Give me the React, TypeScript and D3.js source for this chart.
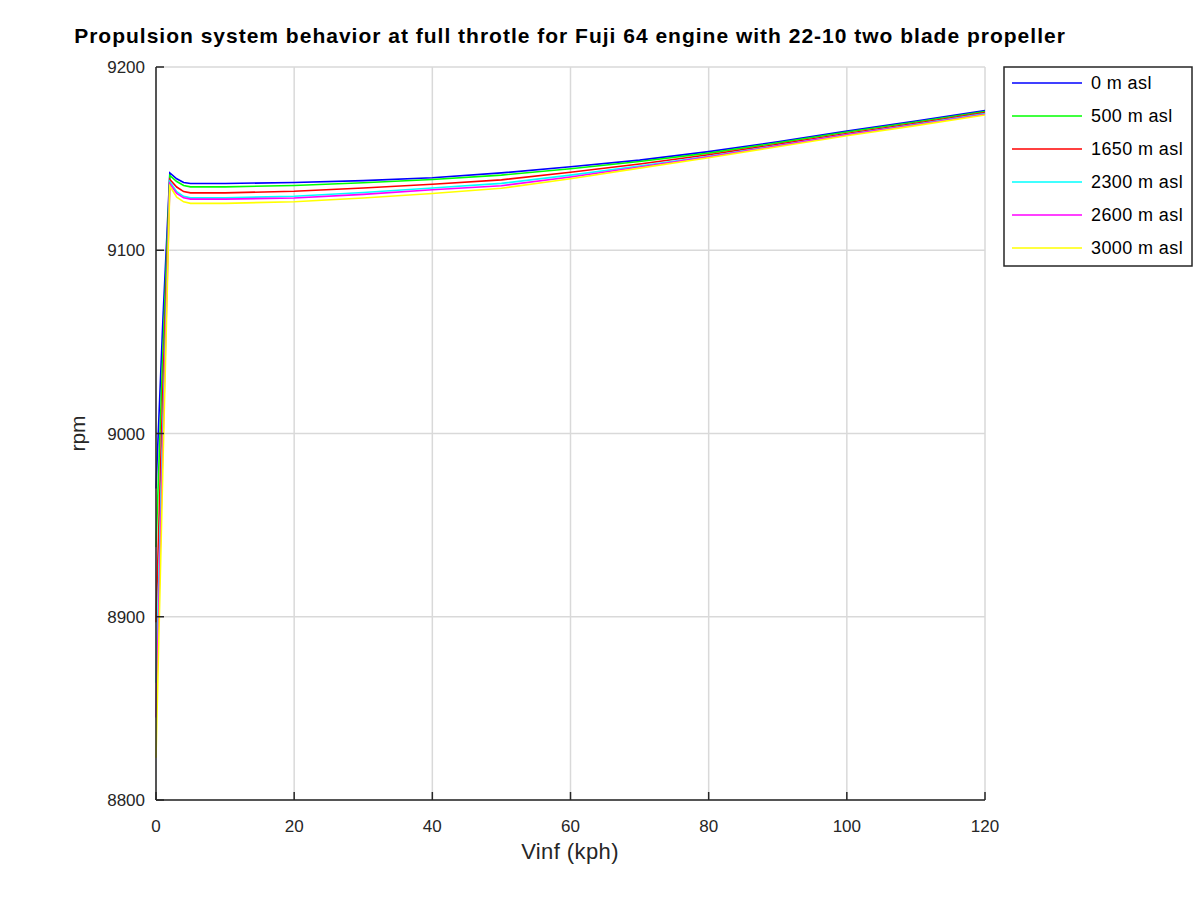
import React from "react";
import * as d3 from "d3";

const title = "Propulsion system behavior at full throtle for Fuji 64 engine with 22-10 two blade propeller";
const xLabel = "Vinf (kph)";
const yLabel = "rpm";
const xTicks = [0, 20, 40, 60, 80, 100, 120];
const yTicks = [8800, 8900, 9000, 9100, 9200];

const speeds = [0, 1, 2, 3, 4, 5, 10, 20, 30, 40, 50, 60, 70, 80, 90, 100, 110, 120];

const seriesNames = ["0 m asl", "500 m asl", "1650 m asl", "2300 m asl", "2600 m asl", "3000 m asl"];
const seriesColors = ["#0000ff", "#00ff00", "#ff0000", "#00ffff", "#ff00ff", "#ffff00"];

const rpm0 = [8970, 9062, 9142.2, 9139, 9137, 9136.4, 9136.4, 9137, 9138, 9139.6, 9142.2, 9145.6, 9149.2, 9153.8, 9159.2, 9165, 9170.5, 9176.2];
const rpm500 = [8938, 9045, 9140.8, 9137.5, 9135.3, 9134.6, 9134.6, 9135.3, 9136.8, 9138.6, 9141, 9144.5, 9148.4, 9153, 9158.6, 9164.5, 9170, 9175.7];
const rpm1650 = [8897, 9025, 9138.6, 9134.5, 9132, 9131.3, 9131.3, 9132.2, 9134, 9136, 9138.4, 9142.6, 9147.1, 9152.1, 9157.8, 9163.7, 9169.3, 9175.1];
const rpm2300 = [8864, 9005, 9137.4, 9132, 9129.4, 9128.6, 9128.6, 9129.5, 9131.5, 9134, 9136.5, 9141, 9146, 9151.3, 9157.2, 9163.2, 9168.8, 9174.6];
const rpm2600 = [8845, 8995, 9136.3, 9131, 9128.6, 9127.9, 9127.9, 9128.5, 9130.5, 9133, 9135.2, 9140, 9145.4, 9151, 9157, 9163, 9168.5, 9174.2];
const rpm3000 = [8823, 8982, 9135, 9129, 9126.4, 9125.6, 9125.6, 9126.5, 9128.5, 9131, 9133.8, 9139, 9144.8, 9150.5, 9156.5, 9162.5, 9168, 9173.8];

const seriesValues = [rpm0, rpm500, rpm1650, rpm2300, rpm2600, rpm3000];

const W = 1200;
const H = 900;
const left = 156;
const right = 985;
const top = 67;
const bottom = 800;
const font = "'Liberation Sans', Arial, Helvetica, sans-serif";

export default function App() {
  const x = d3.scaleLinear().domain([0, 120]).range([left, right]);
  const y = d3.scaleLinear().domain([8800, 9200]).range([bottom, top]);
  const line = d3
    .line<[number, number]>()
    .x((d) => x(d[0]))
    .y((d) => y(d[1]));

  const axisColor = "#262626";
  const gridColor = "#d9d9d9";
  const tickLen = 8;

  const legX = 1004;
  const legY = 67;
  const legW = 188;
  const legH = 199;

  return (
    <svg
      width={W}
      height={H}
      style={{ position: "absolute", left: 0, top: 0, background: "#fff" }}
      fontFamily={font}
    >
      <rect x={0} y={0} width={W} height={H} fill="#ffffff" />
      {/* grid */}
      {xTicks.map((t) => (
        <line key={"gx" + t} x1={x(t)} x2={x(t)} y1={top} y2={bottom} stroke={gridColor} strokeWidth={1.5} />
      ))}
      {yTicks.map((t) => (
        <line key={"gy" + t} x1={left} x2={right} y1={y(t)} y2={y(t)} stroke={gridColor} strokeWidth={1.5} />
      ))}
      {/* series */}
      {seriesValues.map((vals, i) => (
        <path
          key={"s" + i}
          d={line(speeds.map((s, j) => [s, vals[j]] as [number, number])) || ""}
          fill="none"
          stroke={seriesColors[i]}
          strokeWidth={1.6}
        />
      ))}
      {/* axes */}
      <line x1={left} x2={right} y1={bottom} y2={bottom} stroke={axisColor} strokeWidth={1.5} />
      <line x1={left} x2={left} y1={top} y2={bottom} stroke={axisColor} strokeWidth={1.5} />
      {xTicks.map((t) => (
        <g key={"tx" + t}>
          <line x1={x(t)} x2={x(t)} y1={bottom} y2={bottom - tickLen} stroke={axisColor} strokeWidth={1.5} />
          <text x={x(t)} y={bottom + 32} textAnchor="middle" fontSize={17} fill={axisColor}>
            {t}
          </text>
        </g>
      ))}
      {yTicks.map((t) => (
        <g key={"ty" + t}>
          <line x1={left} x2={left + tickLen} y1={y(t)} y2={y(t)} stroke={axisColor} strokeWidth={1.5} />
          <text x={left - 11} y={y(t) + 6} textAnchor="end" fontSize={17} fill={axisColor}>
            {t}
          </text>
        </g>
      ))}
      {/* labels */}
      <text x={570} y={859} textAnchor="middle" fontSize={22} fill={axisColor} letterSpacing={0.4}>
        {xLabel}
      </text>
      <text
        transform={`translate(85, ${(top + bottom) / 2}) rotate(-90)`}
        textAnchor="middle"
        fontSize={21}
        fill={axisColor}
      >
        {yLabel}
      </text>
      <text x={570} y={43} textAnchor="middle" fontSize={21} fontWeight="bold" fill="#000" letterSpacing={1.0}>
        {title}
      </text>
      {/* legend */}
      <rect x={legX} y={legY} width={legW} height={legH} fill="#fff" stroke={axisColor} strokeWidth={1.5} />
      {seriesNames.map((n, i) => {
        const cy = legY + 16 + i * 33;
        return (
          <g key={"l" + i}>
            <line x1={1012} x2={1082} y1={cy} y2={cy} stroke={seriesColors[i]} strokeWidth={1.6} />
            <text x={1091} y={cy + 6} fontSize={18} fill="#000" letterSpacing={0.4}>
              {n}
            </text>
          </g>
        );
      })}
    </svg>
  );
}
